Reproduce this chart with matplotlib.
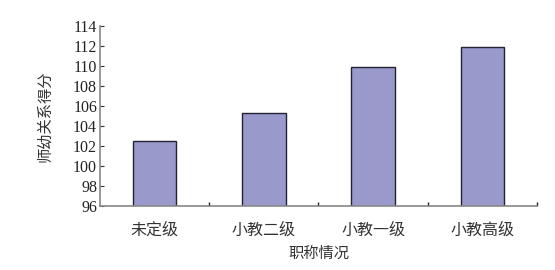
"""Bar chart: 师幼关系得分 by 职称情况."""

import matplotlib

matplotlib.use("Agg")
import matplotlib.pyplot as plt
import numpy as np

categories = ["未定级", "小教二级", "小教一级", "小教高级"]
scores = [102.5, 105.3, 109.9, 111.9]
y_ticks = [96, 98, 100, 102, 104, 106, 108, 110, 112, 114]

plt.rcParams["font.family"] = ["Liberation Serif", "Noto Sans CJK SC"]

fig = plt.figure(figsize=(5.55, 2.70), dpi=100)
ax = fig.add_axes([0.18, 0.237, 0.7876, 0.6667])

x = np.arange(len(categories))
ax.bar(x, scores, width=0.4, color="#9999cc", edgecolor="#222233", linewidth=1.0,
       zorder=2)

ax.set_xlim(-0.5, len(categories) - 0.5)
ax.set_ylim(y_ticks[0], y_ticks[-1])
ax.set_yticks(y_ticks)
ax.set_yticklabels([str(v) for v in y_ticks], fontsize=11.5, family="Liberation Serif",
                   color="#222222")

ax.set_xticks(x)
ax.set_xticklabels(categories, fontsize=11.5, family="Noto Sans CJK SC", color="#333333")
ax.set_xticks(np.arange(len(categories)) + 0.5, minor=True)
ax.tick_params(axis="x", which="major", length=0, pad=11)
ax.tick_params(axis="x", which="minor", direction="in", length=3, width=1, color="#222222")
ax.tick_params(axis="y", direction="in", length=3, width=0.8, color="#333333", pad=2)

for side in ["top", "right"]:
    ax.spines[side].set_visible(False)
ax.spines["left"].set_color("#888888")
ax.spines["bottom"].set_color("#888888")
ax.spines["left"].set_linewidth(1.2)
ax.spines["bottom"].set_linewidth(1.2)

ax.set_ylabel("师幼关系得分", fontsize=11, family="Noto Sans CJK SC", color="#333333",
              labelpad=14)
ax.set_xlabel("职称情况", fontsize=11, family="Noto Sans CJK SC", color="#333333",
              labelpad=5)

plt.savefig("out.png", dpi=100)
plt.close()
